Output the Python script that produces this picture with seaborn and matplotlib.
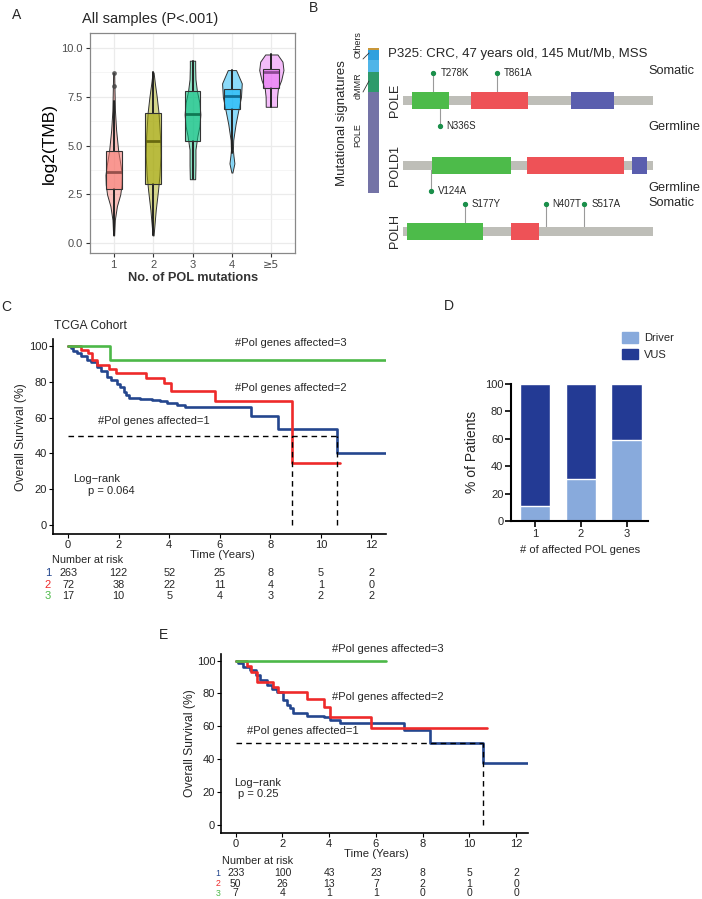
import numpy as np
import pandas as pd
import matplotlib
matplotlib.use("Agg")
import matplotlib.pyplot as plt
import matplotlib.transforms as mtransforms
from matplotlib.patches import Rectangle
from matplotlib.lines import Line2D
import seaborn as sns

# ---------------- data ----------------
# Panel A: TMB by number of POL mutations (box stats + violin outlines)
a_groups = ["1", "2", "3", "4", "\u22655"]
a_colors = ["#F8766D", "#A3A500", "#00BF7D", "#00B0F6", "#E76BF3"]
a_med = [3.65, 5.25, 6.6, 7.52, 8.78]
a_q1 = [2.77, 3.05, 5.23, 6.87, 7.93]
a_q3 = [4.7, 6.67, 7.78, 7.92, 8.95]
a_lo = [0.4, 0.4, 3.28, 4.6, 6.99]
a_hi = [7.3, 8.75, 9.35, 8.87, 9.67]
a_fliers = [[8.05, 8.73], [], [], [], []]
# violin outlines: heights and relative half-widths
a_vy = [
    [0.4, 1.2, 1.9, 2.5, 3.0, 3.5, 4.0, 4.7, 5.8, 6.8, 8.0, 8.73],
    [0.4, 0.7, 1.7, 2.7, 3.5, 4.5, 5.5, 6.7, 7.5, 8.2, 8.75],
    [3.28, 4.0, 4.8, 5.5, 6.0, 6.6, 7.2, 7.8, 8.4, 9.0, 9.35],
    [3.62, 4.09, 4.5, 4.77, 5.28, 6.1, 6.87, 7.5, 8.19, 8.87],
    [6.99, 7.5, 7.93, 8.36, 8.87, 9.3, 9.67],
]
a_vw = [
    [0.5, 1.2, 3.3, 6.7, 8.0, 8.3, 7.0, 4.7, 2.5, 1.3, 0.8, 0.5],
    [0.5, 1.0, 2.7, 5.0, 6.5, 7.5, 7.0, 5.5, 3.7, 1.8, 0.5],
    [2.7, 3.0, 3.0, 5.0, 7.0, 8.0, 7.0, 4.5, 3.0, 2.7, 2.7],
    [0.5, 2.5, 1.5, 1.0, 1.3, 3.7, 6.7, 9.2, 10.0, 4.2],
    [5.7, 5.8, 6.7, 10.0, 12.3, 11.3, 6.2],
]

# Panel B: P325 POL gene lollipops (aa positions)
b_genes = ["POLE", "POLD1", "POLH"]
b_len = [2286, 1107, 713]
b_domains = {
    "POLE": [(82, 421, "#4DBB4A"), (622, 1143, "#EE5257"), (1536, 1929, "#5A5EAE")],
    "POLD1": [(128, 478, "#4DBB4A"), (549, 979, "#EE5257"), (1014, 1080, "#5A5EAE")],
    "POLH": [(11, 228, "#4DBB4A"), (308, 388, "#EE5257")],
}
b_muts = [("POLE", 278, "T278K", "up"), ("POLE", 861, "T861A", "up"),
          ("POLE", 336, "N336S", "down"), ("POLD1", 124, "V124A", "down"),
          ("POLH", 177, "S177Y", "up"), ("POLH", 407, "N407T", "up"),
          ("POLH", 517, "S517A", "up")]
sig_names = ["POLE", "dMMR", "Others", "Others2", "rest"]
sig_frac = [0.697, 0.138, 0.082, 0.07, 0.013]
sig_colors = ["#7473A6", "#2E9A6B", "#50B5E8", "#2FA0DE", "#C8973A"]

# Panel C: TCGA cohort KM
c_t1 = [0, 0.1, 0.2, 0.36, 0.5, 0.75, 0.9, 1.15, 1.3, 1.54, 1.7, 1.94, 2.05, 2.2, 2.3,
        2.4, 2.86, 3.3, 3.65, 3.91, 4.31, 4.64, 7.23, 8.29, 10.63, 12.7]
c_s1 = [100, 98.8, 97.5, 95.9, 94.5, 92.5, 91, 88.5, 86, 83, 81, 79, 77, 74.5, 72.5,
        71, 70.2, 70, 69.5, 68.3, 67, 65.8, 61, 53.5, 40, 40]
c_t2 = [0, 0.49, 0.78, 0.95, 1.15, 1.61, 1.91, 3.08, 3.81, 4.08, 5.82, 8.87, 10.76]
c_s2 = [100, 98.1, 95.9, 92, 89.5, 87.5, 85, 82, 79.5, 74.7, 69.5, 34.6, 34.6]
c_t3 = [0, 1.67, 12.7]
c_s3 = [100, 92.3, 92.3]
c_medians = [8.87, 10.63]
c_risk = [[263, 122, 52, 25, 8, 5, 2], [72, 38, 22, 11, 4, 1, 0], [17, 10, 5, 4, 3, 2, 2]]

# Panel D: driver vs VUS
d_cats = ["1", "2", "3"]
d_driver = [11.0, 30.5, 58.8]
d_vus = [89.0, 69.5, 41.2]

# Panel E: validation cohort KM
e_t1 = [0, 0.1, 0.33, 0.61, 0.85, 1.04, 1.33, 1.55, 1.76, 2.04, 2.2, 2.33, 2.47, 3.04,
        3.76, 4.04, 4.47, 7.21, 8.33, 10.57, 12.69]
e_s1 = [100, 98.5, 96.3, 94.3, 91, 88.2, 85.2, 83, 81.1, 76, 73, 71, 68, 66.5,
        65.5, 63.9, 62.3, 57.8, 50, 37.5, 37.5]
e_t2 = [0, 0.5, 0.65, 0.9, 1.61, 1.83, 3.04, 3.76, 4.04, 5.8, 10.76]
e_s2 = [100, 97, 93.3, 87.2, 84.2, 81.1, 76.7, 72, 65.9, 58.8, 58.8]
e_t3 = [0, 6.43]
e_s3 = [100, 100]
e_medians = [10.6]
e_risk = [[233, 100, 43, 23, 8, 5, 2], [50, 26, 13, 7, 2, 1, 0], [7, 4, 1, 1, 0, 0, 0]]

KM_COLORS = ["#24468E", "#EE2A2A", "#4CB848"]

# ---------------- figure ----------------
sns.set_theme(style="white")
plt.rcParams["font.family"] = ["Liberation Sans", "DejaVu Sans"]

W, H = 702, 899
fig = plt.figure(figsize=(W / 100, H / 100), dpi=100)


def ax_at(l, t, r, b):
    return fig.add_axes([l / W, 1 - b / H, (r - l) / W, (b - t) / H])


def ftext(x, y, s, **kw):
    kw.setdefault("va", "center")
    return fig.text(x / W, 1 - y / H, s, **kw)


def fline(xs, ys, **kw):
    fig.add_artist(Line2D([x / W for x in xs], [1 - y / H for y in ys],
                          transform=fig.transFigure, **kw))


# ---- Panel A ----
axA = ax_at(90, 33, 295, 253)
pos = np.arange(len(a_groups))
for i, c in enumerate(a_colors):
    hw = np.array(a_vw[i]) / 40.0
    axA.fill_betweenx(a_vy[i], i - hw, i + hw, facecolor=matplotlib.colors.to_rgba(c, 0.45),
                      edgecolor="#333333", linewidth=0.7, zorder=2)
stats = [dict(med=a_med[i], q1=a_q1[i], q3=a_q3[i], whislo=a_lo[i], whishi=a_hi[i],
              fliers=a_fliers[i]) for i in range(len(a_groups))]
bp = axA.bxp(stats, positions=pos, widths=0.4, patch_artist=True, showcaps=False,
             medianprops=dict(color="#222222", linewidth=2),
             whiskerprops=dict(color="#222222", linewidth=1.4),
             boxprops=dict(edgecolor="#333333", linewidth=0.8),
             flierprops=dict(marker="o", markersize=2.5, markerfacecolor="#444444",
                             markeredgecolor="#444444", alpha=0.7))
for patch, c in zip(bp["boxes"], a_colors):
    patch.set_facecolor(matplotlib.colors.to_rgba(c, 0.55))
    patch.set_zorder(3)
axA.set_xlim(-0.6, 4.6)
axA.set_ylim(-0.5, 10.77)
axA.set_xticks(pos)
axA.set_xticklabels(a_groups)
axA.set_yticks([0, 2.5, 5, 7.5, 10])
axA.set_yticklabels(["0.0", "2.5", "5.0", "7.5", "10.0"])
axA.set_yticks([1.25, 3.75, 6.25, 8.75], minor=True)
axA.set_axisbelow(True)
axA.grid(True, which="major", color="#EBEBEB", linewidth=0.9)
axA.grid(True, which="minor", axis="y", color="#F2F2F2", linewidth=0.5)
for s in axA.spines.values():
    s.set_color("#888888")
    s.set_linewidth(0.9)
axA.tick_params(axis="both", which="major", length=3, width=0.8, color="#333333",
                labelcolor="#4D4D4D", labelsize=8, pad=2, left=True, bottom=True)
axA.tick_params(which="minor", length=0)
axA.get_xticklabels()[-1].set_family(["DejaVu Sans"])
axA.set_ylabel("log2(TMB)", fontsize=12.5, color="black")
axA.yaxis.set_label_coords(-0.16, 0.5)
axA.set_xlabel("No. of POL mutations", fontsize=9.2, fontweight="bold", color="#333333")
axA.xaxis.set_label_coords(0.502, -0.086)
ftext(82, 19, "All samples (P<.001)", fontsize=10.5, ha="left")
ftext(17, 15, "A", fontsize=10, ha="center")

# ---- Panel B ----
axSig = ax_at(368, 48, 379, 193)
bottom = 0.0
for f, c in zip(sig_frac, sig_colors):
    axSig.bar([0], [f], bottom=bottom, width=1.0, color=c, edgecolor="none")
    bottom += f
axSig.set_xlim(-0.5, 0.5)
axSig.set_ylim(0, 1)
axSig.axis("off")
ftext(342, 123, "Mutational signatures", fontsize=9.5, rotation=90, ha="center")
ftext(358, 135, "POLE", fontsize=6.5, rotation=90, ha="center")
ftext(358, 86, "dMMR", fontsize=6.5, rotation=90, ha="center")
ftext(358, 45, "Others", fontsize=6.5, rotation=90, ha="center")
fline([363, 369], [59, 53], color="#333333", linewidth=0.6)
fline([363, 369], [92, 81], color="#333333", linewidth=0.6)
ftext(313, 8, "B", fontsize=10, ha="center")

axB = ax_at(380, 40, 702, 260)
axB.set_xlim(-9.2, 119.6)
axB.set_ylim(260, 40)
axB.axis("off")
track_y = {"POLE": 100, "POLD1": 165, "POLH": 231}
for g, L in zip(b_genes, b_len):
    y = track_y[g]
    axB.add_patch(Rectangle((0, y - 4.5), 100, 9, facecolor="#BEBEB8", edgecolor="none", zorder=2))
    for s0, s1, col in b_domains[g]:
        axB.add_patch(Rectangle((100 * s0 / L, y - 8.5), 100 * (s1 - s0) / L, 17,
                                facecolor=col, edgecolor="none", zorder=3))
    axB.text(-3.3, y, g, rotation=90, fontsize=9, ha="center", va="center")
for g, p, lab, side in b_muts:
    L = b_len[b_genes.index(g)]
    x = 100 * p / L
    y0 = track_y[g]
    yh = y0 - 27 if side == "up" else y0 + 26
    axB.plot([x, x], [y0, yh], color="#9A9A9A", linewidth=0.8, zorder=1)
    axB.plot([x], [yh], "o", color="#1A8F4A", markersize=2.8, zorder=4)
    axB.text(x + 2.8, yh, lab, fontsize=7, ha="left", va="center")
axB.text(-6.0, 54, "P325: CRC, 47 years old, 145 Mut/Mb, MSS", fontsize=9.5, ha="left", va="center")
for lab, yy in [("Somatic", 71), ("Germline", 127), ("Germline", 188), ("Somatic", 203)]:
    axB.text(98, yy, lab, fontsize=9.2, ha="left", va="center")


# ---- KM helper ----
def km_panel(ax, curves, medians, risk, xlim, ylim, risk_rows, risk_header, grp_x, grp_size,
             risk_size, ylab_xy, xlab_xy):
    for (t, s), col in zip(curves, KM_COLORS):
        df = pd.DataFrame({"t": t, "s": s})
        sns.lineplot(data=df, x="t", y="s", ax=ax, color=col, linewidth=1.9,
                     drawstyle="steps-post", estimator=None, sort=False, zorder=3)
    ax.plot([0, max(medians)], [50, 50], color="black", linestyle=(0, (4, 3)), linewidth=1.0, zorder=4)
    for m in medians:
        ax.plot([m, m], [0, 50], color="black", linestyle=(0, (4, 3)), linewidth=1.0, zorder=4)
    ax.set_xlim(*xlim)
    ax.set_ylim(*ylim)
    ax.set_xticks(range(0, 13, 2))
    ax.set_yticks(range(0, 101, 20))
    for side in ["top", "right"]:
        ax.spines[side].set_visible(False)
    for side in ["left", "bottom"]:
        ax.spines[side].set_color("black")
        ax.spines[side].set_linewidth(1.2)
    ax.tick_params(length=3, width=0.8, color="black", labelsize=8, pad=1.2,
                   left=True, bottom=True, labelcolor="#222222")
    ax.set_xlabel("Time (Years)", fontsize=8.2)
    ax.set_ylabel("Overall Survival (%)", fontsize=8.7)
    ax.yaxis.set_label_coords(*ylab_xy)
    ax.xaxis.set_label_coords(*xlab_xy)
    tr = mtransforms.blended_transform_factory(ax.transData, fig.transFigure)
    hx, hy = risk_header
    ftext(hx, hy, "Number at risk", fontsize=7.8, ha="left")
    for row, yy, col, k in zip(risk, risk_rows, KM_COLORS, ["1", "2", "3"]):
        ftext(grp_x, yy, k, fontsize=grp_size, ha="center", color=col)
        for xv, n in zip(range(0, 13, 2), row):
            ax.text(xv, 1 - yy / H, str(n), transform=tr, fontsize=risk_size,
                    ha="center", va="center")


axC = ax_at(53, 339, 386, 534)
km_panel(axC, [(c_t1, c_s1), (c_t2, c_s2), (c_t3, c_s3)], c_medians, c_risk,
         (-0.6, 12.58), (-5, 104), [573, 585, 596], (52, 560), 48, 8, 7.8,
         (-0.078, 0.497), (0.51, -0.083))
axC.text(6.6, 101.7, "#Pol genes affected=3", fontsize=8, va="center")
axC.text(6.6, 76.5, "#Pol genes affected=2", fontsize=8, va="center")
axC.text(1.2, 58, "#Pol genes affected=1", fontsize=8, va="center")
axC.text(0.2, 25.7, "Log\u2212rank", fontsize=8, va="center")
axC.text(0.8, 19, "p = 0.064", fontsize=8, va="center")
ftext(54, 326, "TCGA Cohort", fontsize=8.7, ha="left")
ftext(6, 307, "C", fontsize=10, ha="center")

axE = ax_at(221, 654, 528, 833)
km_panel(axE, [(e_t1, e_s1), (e_t2, e_s2), (e_t3, e_s3)], e_medians, e_risk,
         (-0.63, 12.51), (-4.9, 104), [873, 884, 893], (222, 861), 218, 6.3, 7.5,
         (-0.081, 0.503), (0.505, -0.09))
axE.text(4.13, 107, "#Pol genes affected=3", fontsize=8, va="center")
axE.text(4.13, 77.9, "#Pol genes affected=2", fontsize=8, va="center")
axE.text(0.5, 57, "#Pol genes affected=1", fontsize=8, va="center")
axE.text(0.95, 25.5, "Log\u2212rank", fontsize=8, va="center", ha="center")
axE.text(0.95, 19, "p = 0.25", fontsize=8, va="center", ha="center")
ftext(163, 635, "E", fontsize=10, ha="center")

# ---- Panel D ----
axD = ax_at(511, 384, 648, 521)
d_total = np.array(d_driver) + np.array(d_vus)
sns.barplot(x=d_cats, y=d_total, color="#233A94", saturation=1, width=0.66, ax=axD)
sns.barplot(x=d_cats, y=d_driver, color="#88AADC", saturation=1, width=0.66, ax=axD)
axD.set_xlim(-0.525, 2.47)
axD.set_ylim(0, 100)
axD.set_yticks(range(0, 101, 20))
for side in ["top", "right"]:
    axD.spines[side].set_visible(False)
for side in ["left", "bottom"]:
    axD.spines[side].set_color("black")
    axD.spines[side].set_linewidth(1.5)
axD.tick_params(length=4, width=1.2, color="black", labelsize=8, pad=1.5, left=True, bottom=True)
axD.set_ylabel("% of Patients", fontsize=10)
axD.yaxis.set_label_coords(-0.234, 0.504)
axD.set_xlabel("# of affected POL genes", fontsize=8)
axD.xaxis.set_label_coords(0.504, -0.175)
handles = [Rectangle((0, 0), 1, 1, color="#88AADC"), Rectangle((0, 0), 1, 1, color="#233A94")]
fig.legend(handles, ["Driver", "VUS"], loc="upper left", bbox_to_anchor=(622 / W, 1 - 332 / H),
           frameon=False, fontsize=8, handlelength=1.4, handleheight=1.1, labelspacing=0.5,
           handletextpad=0.6, borderaxespad=0, borderpad=0)
ftext(449, 306, "D", fontsize=10, ha="center")

fig.savefig("out.png", dpi=100)
